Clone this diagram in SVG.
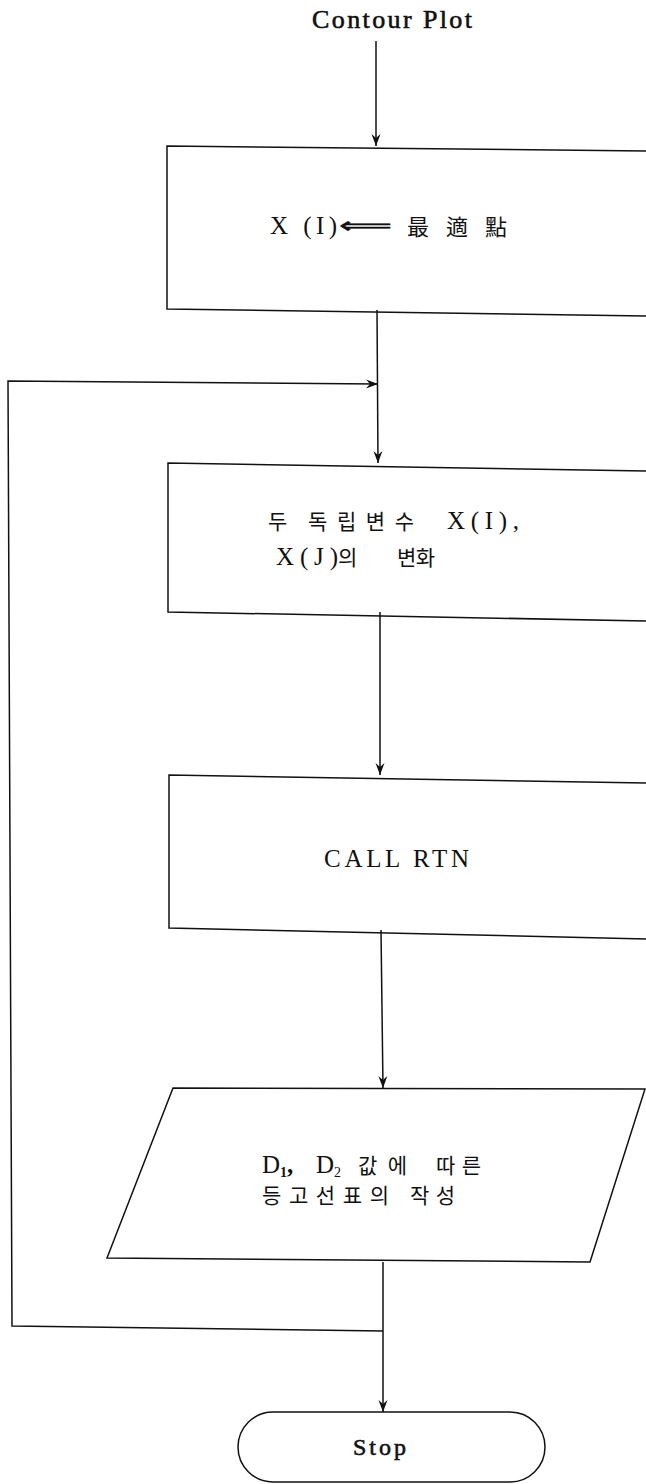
<svg xmlns="http://www.w3.org/2000/svg" width="646" height="1484" viewBox="0 0 646 1484">
<style>
.t{font-family:"Liberation Serif","Noto Sans CJK KR",serif;fill:#111;font-size:25px}
.k{font-family:"Noto Sans CJK KR","Liberation Serif",sans-serif;fill:#111;font-size:21px}
.m{stroke:#111;stroke-width:0.6}
.ln{fill:none;stroke:#111;stroke-width:1.5;stroke-linejoin:miter}
.sh{fill:#fff;stroke:#111;stroke-width:1.5}
</style>
<defs>
<marker id="ah" viewBox="-13 -6 14 12" refX="0" refY="0" markerWidth="14" markerHeight="12" markerUnits="userSpaceOnUse" orient="auto">
<path d="M0,0 L-12,-4.5 L-8,0 L-12,4.5 Z" fill="#111"/>
</marker>
</defs>
<rect width="646" height="1484" fill="#fff"/>

<g id="start">
<text class="t m" x="312" y="28" style="font-size:26px" textLength="160" lengthAdjust="spacing">Contour Plot</text>
</g>

<g id="box1">
<path class="sh" d="M648,151 L167,146 L167,309 L648,316"/>
<text class="t" x="270" y="234" textLength="67" lengthAdjust="spacing">X (I)</text>
<text x="339" y="233" style="font-family:'DejaVu Sans',sans-serif;font-size:22px;fill:#111;stroke:#111;stroke-width:0.5" textLength="53" lengthAdjust="spacingAndGlyphs">⟸</text>
<text class="k" x="407" y="235" style="font-size:22px" textLength="100" lengthAdjust="spacing">最 適 點</text>
</g>

<g id="box2">
<path class="sh" d="M648,471 L168,463 L168,612 L648,621"/>
<text class="k" x="268" y="529">두</text>
<text class="k" x="308" y="529" textLength="106" lengthAdjust="spacing">독립변수</text>
<text class="t" x="447" y="529" textLength="72" lengthAdjust="spacing">X(I),</text>
<text class="t" x="276" y="565" textLength="62" lengthAdjust="spacing">X(J)</text>
<text class="k" x="338" y="565">의</text>
<text class="k" x="397" y="565" textLength="38" lengthAdjust="spacing">변화</text>
</g>

<g id="box3">
<path class="sh" d="M648,783 L169,775 L169,928 L648,939"/>
<text class="t" x="324" y="867" textLength="145" lengthAdjust="spacing">CALL  RTN</text>
</g>

<g id="output">
<path class="sh" d="M173,1088 L645,1089 L590,1262 L107,1258 Z"/>
<text class="t" x="262" y="1173" style="font-size:25px">D<tspan dy="4" style="font-size:14px;font-weight:bold">1</tspan><tspan dy="-4" style="font-weight:bold">,</tspan></text>
<text class="t" x="316" y="1173" style="font-size:25px">D<tspan dy="4" style="font-size:14px">2</tspan></text>
<text class="k" x="358" y="1173" textLength="49" lengthAdjust="spacing">값에</text>
<text class="k" x="436" y="1173" textLength="45" lengthAdjust="spacing">따른</text>
<text class="k" x="262" y="1203" textLength="127" lengthAdjust="spacing">등고선표의</text>
<text class="k" x="410" y="1203" textLength="45" lengthAdjust="spacing">작성</text>
</g>

<g id="stop">
<rect class="sh" x="238" y="1412" width="307" height="70" rx="35" ry="35"/>
<text class="t m" x="353" y="1455" style="font-size:24px" textLength="53" lengthAdjust="spacing">Stop</text>
</g>

<g id="connectors">
<path class="ln" d="M376,41 L376,146" marker-end="url(#ah)"/>
<path class="ln" d="M377,310 L378,463" marker-end="url(#ah)"/>
<path class="ln" d="M383,1331 L12,1326 L8,381 L378,384" marker-end="url(#ah)"/>
<path class="ln" d="M380,612 L380,775" marker-end="url(#ah)"/>
<path class="ln" d="M381,930 L383,1088" marker-end="url(#ah)"/>
<path class="ln" d="M383,1262 L383,1412" marker-end="url(#ah)"/>
</g>
</svg>
